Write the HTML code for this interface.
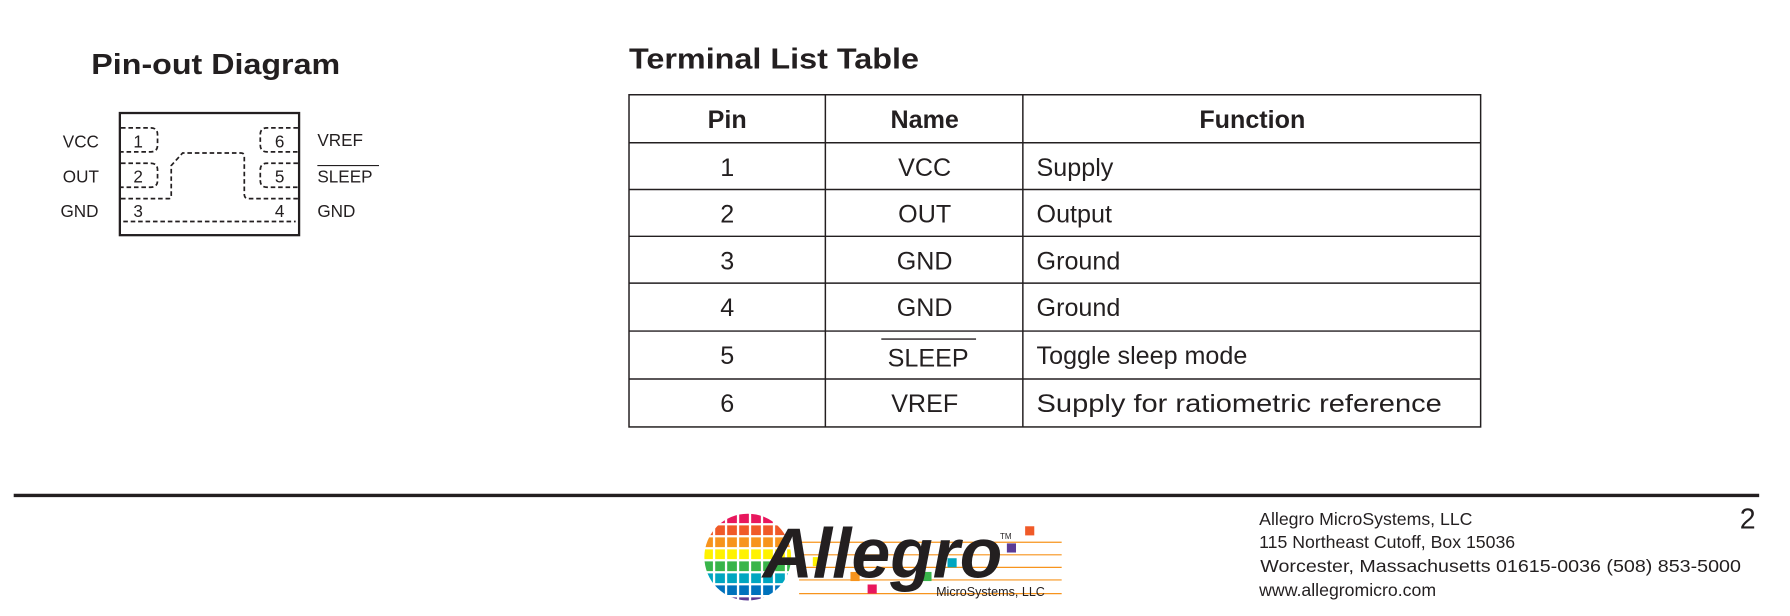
<!DOCTYPE html>
<html><head><meta charset="utf-8"><style>
html,body{margin:0;padding:0;background:#fff;}
svg{display:block;}
text{font-family:"Liberation Sans",Arial,sans-serif;fill:#231f20;}
</style></head><body>
<svg width="1790" height="616" viewBox="0 0 1568 539.6" xmlns="http://www.w3.org/2000/svg">
<!-- Pin-out -->
<text x="80" y="65" font-size="25" font-weight="bold" textLength="218" lengthAdjust="spacingAndGlyphs">Pin-out Diagram</text>
<rect x="105" y="99" width="157" height="107" fill="none" stroke="#231f20" stroke-width="2"/>
<g fill="none" stroke="#231f20" stroke-width="1.5" stroke-dasharray="4 2.5">
<path d="M106 112 H132 Q138 112 138 118 V127 Q138 133 132 133 H106"/>
<path d="M106 143 H132 Q138 143 138 149 V158 Q138 164 132 164 H106"/>
<path d="M261 112 H234 Q228 112 228 118 V127 Q228 133 234 133 H261"/>
<path d="M261 143 H234 Q228 143 228 149 V158 Q228 164 234 164 H261"/>
<path d="M106 174 H148 Q150 174 150 171 V145 L160 134 H211 Q214 134 214 137 V170 Q214 174 218 174 H261"/>
<path d="M108 194 H259"/>
</g>
<g font-size="15">
<text x="121" y="129" text-anchor="middle">1</text>
<text x="121" y="160" text-anchor="middle">2</text>
<text x="121" y="190" text-anchor="middle">3</text>
<text x="245" y="129" text-anchor="middle">6</text>
<text x="245" y="160" text-anchor="middle">5</text>
<text x="245" y="190" text-anchor="middle">4</text>
<text x="55" y="129">VCC</text>
<text x="55" y="160">OUT</text>
<text x="53" y="190">GND</text>
<text x="278" y="128">VREF</text>
<text x="278" y="160">SLEEP</text>
<text x="278" y="190">GND</text>
</g>
<line x1="278" y1="145" x2="332" y2="145" stroke="#231f20" stroke-width="1"/>
<!-- Table -->
<text x="551" y="60" font-size="25" font-weight="bold" textLength="254" lengthAdjust="spacingAndGlyphs">Terminal List Table</text>
<g stroke="#231f20" stroke-width="1.3" fill="none">
<rect x="551" y="83" width="746" height="291"/>
<line x1="723" y1="83" x2="723" y2="374"/>
<line x1="896" y1="83" x2="896" y2="374"/>
<line x1="551" y1="125" x2="1297" y2="125"/>
<line x1="551" y1="166" x2="1297" y2="166"/>
<line x1="551" y1="207" x2="1297" y2="207"/>
<line x1="551" y1="248" x2="1297" y2="248"/>
<line x1="551" y1="290" x2="1297" y2="290"/>
<line x1="551" y1="332" x2="1297" y2="332"/>
</g>
<g font-size="22">
<text x="637" y="112" text-anchor="middle" font-weight="bold">Pin</text>
<text x="810" y="112" text-anchor="middle" font-weight="bold">Name</text>
<text x="1097" y="112" text-anchor="middle" font-weight="bold">Function</text>
<text x="637" y="154" text-anchor="middle">1</text>
<text x="637" y="195" text-anchor="middle">2</text>
<text x="637" y="236" text-anchor="middle">3</text>
<text x="637" y="277" text-anchor="middle">4</text>
<text x="637" y="319" text-anchor="middle">5</text>
<text x="637" y="361" text-anchor="middle">6</text>
<text x="810" y="154" text-anchor="middle">VCC</text>
<text x="810" y="195" text-anchor="middle">OUT</text>
<text x="810" y="236" text-anchor="middle">GND</text>
<text x="810" y="277" text-anchor="middle">GND</text>
<text x="813" y="321" text-anchor="middle">SLEEP</text>
<text x="810" y="361" text-anchor="middle">VREF</text>
<text x="908" y="154">Supply</text>
<text x="908" y="195">Output</text>
<text x="908" y="236">Ground</text>
<text x="908" y="277">Ground</text>
<text x="908" y="319">Toggle sleep mode</text>
<text x="908" y="361" textLength="355" lengthAdjust="spacingAndGlyphs">Supply for ratiometric reference</text>
</g>
<line x1="772" y1="297" x2="855" y2="297" stroke="#231f20" stroke-width="1.2"/>
<!-- footer -->
<line x1="12" y1="434" x2="1541" y2="434" stroke="#231f20" stroke-width="3"/>
<defs><clipPath id="c"><circle cx="655" cy="488" r="38"/></clipPath></defs>
<g clip-path="url(#c)" stroke-width="8.5" stroke-dasharray="8.5 2">
<line x1="616" y1="454" x2="700" y2="454" stroke="#e8175d"/>
<line x1="616" y1="464.5" x2="700" y2="464.5" stroke="#f05a28"/>
<line x1="616" y1="475" x2="700" y2="475" stroke="#f7941d"/>
<line x1="616" y1="485.5" x2="700" y2="485.5" stroke="#fff200"/>
<line x1="616" y1="496" x2="700" y2="496" stroke="#39b54a"/>
<line x1="616" y1="506.5" x2="700" y2="506.5" stroke="#00a6c0"/>
<line x1="616" y1="517" x2="700" y2="517" stroke="#0072bc"/>
<line x1="616" y1="527.5" x2="700" y2="527.5" stroke="#5b3b95"/>
</g>
<g stroke="#f7941d" stroke-width="1">
<line x1="700" y1="475" x2="930" y2="475"/>
<line x1="700" y1="486" x2="930" y2="486"/>
<line x1="700" y1="497" x2="930" y2="497"/>
<line x1="700" y1="508" x2="930" y2="508"/>
<line x1="700" y1="520" x2="930" y2="520"/>
</g>
<rect x="898" y="461" width="8" height="8" fill="#f05a28"/>
<rect x="882" y="476" width="8" height="8" fill="#5b3b95"/>
<rect x="830" y="489" width="8" height="8" fill="#00a6c0"/>
<rect x="808" y="501" width="8" height="8" fill="#39b54a"/>
<rect x="745" y="501" width="8" height="8" fill="#f7941d"/>
<rect x="760" y="512" width="8" height="8" fill="#e8175d"/>
<rect x="712" y="488" width="8" height="8" fill="#fff200"/>
<text x="668" y="506" font-family="'Liberation Serif',serif" font-size="62" font-style="italic" font-weight="bold" textLength="210" lengthAdjust="spacingAndGlyphs">Allegro</text>
<text x="876" y="472" font-size="7">TM</text>
<text x="820" y="522" font-size="11">MicroSystems, LLC</text>
<g font-size="15.5">
<text x="1103" y="460">Allegro MicroSystems, LLC</text>
<text x="1103" y="480">115 Northeast Cutoff, Box 15036</text>
<text x="1104" y="501" textLength="421" lengthAdjust="spacingAndGlyphs">Worcester, Massachusetts 01615-0036  (508) 853-5000</text>
<text x="1103" y="522">www.allegromicro.com</text>
</g>
<text x="1524" y="463" font-size="25">2</text>
</svg>
</body></html>
